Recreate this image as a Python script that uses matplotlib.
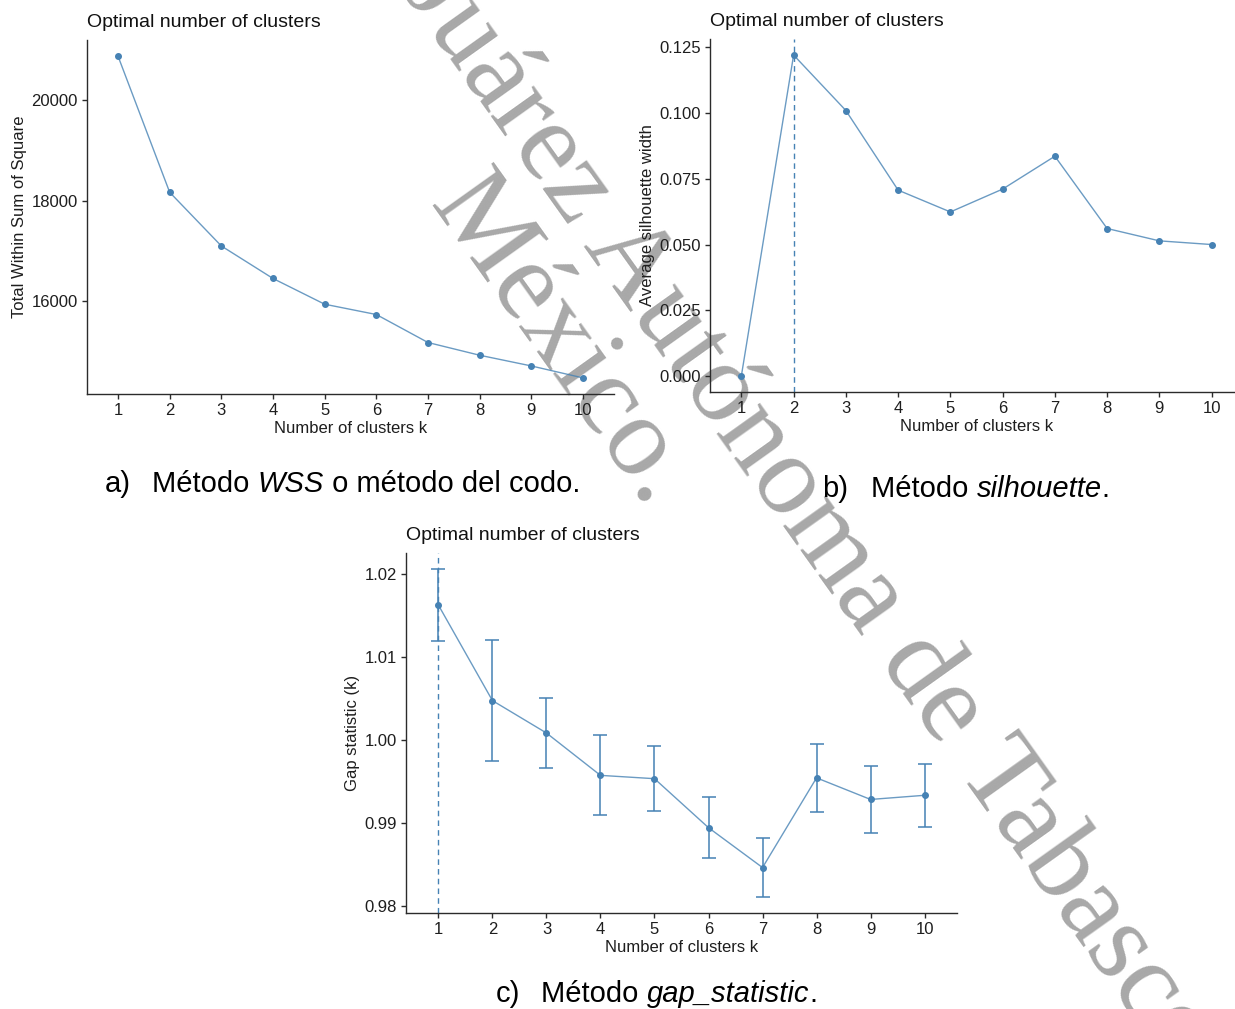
import matplotlib
matplotlib.use("Agg")
import matplotlib.pyplot as plt

plt.rcParams['font.family'] = ['Liberation Sans', 'DejaVu Sans']

# data
k = [1, 2, 3, 4, 5, 6, 7, 8, 9, 10]
wss = [20876, 18167, 17099, 16452, 15940, 15735, 15178, 14925, 14712, 14474]
sil = [0.0, 0.1221, 0.1010, 0.0707, 0.0624, 0.0711, 0.0836, 0.0561, 0.0514, 0.0500]
gap = [1.0162, 1.0047, 1.0008, 0.9957, 0.9953, 0.9894, 0.9846, 0.9954, 0.9928, 0.9933]
gap_se = [0.0043, 0.0073, 0.0042, 0.0048, 0.0039, 0.0037, 0.0035, 0.0041, 0.0040, 0.0038]
sil_best = 2
gap_best = 1

wss_ticks = [16000, 18000, 20000]
sil_ticks = [0.000, 0.025, 0.050, 0.075, 0.100, 0.125]
gap_ticks = [0.98, 0.99, 1.00, 1.01, 1.02]

title = "Optimal number of clusters"
xlab = "Number of clusters k"

W, H = 1235, 1009
fig = plt.figure(figsize=(W / 100, H / 100), dpi=100)
fig.patch.set_facecolor('white')

blue = '#4682B4'
axcol = '#2b2b2b'


def px_axes(l, t, r, b):
    return fig.add_axes([l / W, 1 - b / H, (r - l) / W, (b - t) / H])


def expand(lo, hi, f=0.05):
    d = (hi - lo) * f
    return lo - d, hi + d


def style(ax, ylabel):
    ax.patch.set_alpha(0)
    for s in ['top', 'right']:
        ax.spines[s].set_visible(False)
    for s in ['left', 'bottom']:
        ax.spines[s].set_color(axcol)
        ax.spines[s].set_linewidth(1.0)
    ax.tick_params(colors=axcol, length=3.5, width=1.0, labelsize=12,
                   labelcolor='#1e1e1e', pad=3)
    ax.set_xlim(0.4, 10.6)
    ax.set_xticks(k)
    ax.set_xlabel(xlab, fontsize=12, color='#1e1e1e', labelpad=2)
    ax.set_ylabel(ylabel, fontsize=12, color='#1e1e1e', labelpad=3)
    ax.set_title(title, loc='left', fontsize=14, pad=9.5, color='#111111')


# a) WSS
ax1 = px_axes(87, 40, 614, 394)
ax1.plot(k, wss, color=blue, lw=1.0, alpha=0.8)
ax1.plot(k, wss, 'o', color=blue, ms=4)
ax1.set_ylim(*expand(min(wss), max(wss)))
ax1.set_yticks(wss_ticks)
ax1.set_yticklabels([str(v) for v in wss_ticks])
style(ax1, "Total Within Sum of Square")

# b) silhouette
ax2 = px_axes(710, 39, 1243, 392)
ax2.axvline(sil_best, color=blue, lw=1.0, ls=(0, (4, 3)))
ax2.plot(k, sil, color=blue, lw=1.0, alpha=0.8)
ax2.plot(k, sil, 'o', color=blue, ms=4)
ax2.set_ylim(*expand(min(sil), max(sil)))
ax2.set_yticks(sil_ticks)
ax2.set_yticklabels(['%.3f' % v for v in sil_ticks])
style(ax2, "Average silhouette width")

# c) gap statistic
ax3 = px_axes(406, 553, 957, 913)
lo = [g - s for g, s in zip(gap, gap_se)]
hi = [g + s for g, s in zip(gap, gap_se)]
ax3.axvline(gap_best, color=blue, lw=1.0, ls=(0, (4, 3)))
ax3.errorbar(k, gap, yerr=gap_se, fmt='none', ecolor=blue, elinewidth=1.3,
             capsize=5, capthick=1.3, alpha=0.85)
ax3.plot(k, gap, color=blue, lw=1.0, alpha=0.8)
ax3.plot(k, gap, 'o', color=blue, ms=4)
ax3.set_ylim(*expand(min(lo), max(hi)))
ax3.set_yticks(gap_ticks)
ax3.set_yticklabels(['%.2f' % v for v in gap_ticks])
style(ax3, "Gap statistic (k)")

# captions with italic parts
renderer = fig.canvas.get_renderer()


def advance(s, st):
    a = fig.text(0, 0, s + 'x', fontsize=21, style=st)
    b = fig.text(0, 0, 'x', fontsize=21, style=st)
    w = a.get_window_extent(renderer).width - b.get_window_extent(renderer).width
    a.remove()
    b.remove()
    return w


def caption(xl, xs, yb, label, parts):
    fig.text(xl / W, 1 - yb / H, label, fontsize=21, va='baseline')
    x = xs
    for s, st in parts:
        fig.text(x / W, 1 - yb / H, s, fontsize=21, style=st, va='baseline')
        x += advance(s, st)


caption(105, 152, 492, "a)", [("Método ", 'normal'), ("WSS", 'italic'),
                              (" o método del codo.", 'normal')])
caption(822, 871, 497, "b)", [("Método ", 'normal'), ("silhouette", 'italic'),
                              (".", 'normal')])
caption(496, 541, 1002, "c)", [("Método ", 'normal'), ("gap_statistic", 'italic'),
                               (".", 'normal')])

# watermark behind the charts
wm = dict(fontsize=82, family='Liberation Serif', color='#a8a8a8',
          rotation=-54.5, rotation_mode='anchor', ha='left', va='baseline',
          zorder=-5)
fig.text(61 / W, 1 + 486 / H, "Universidad Juárez Autónoma de Tabasco.", **wm)
fig.text(428 / W, 1 - 205 / H, "México.", **wm)

fig.savefig('out.png', dpi=100)
